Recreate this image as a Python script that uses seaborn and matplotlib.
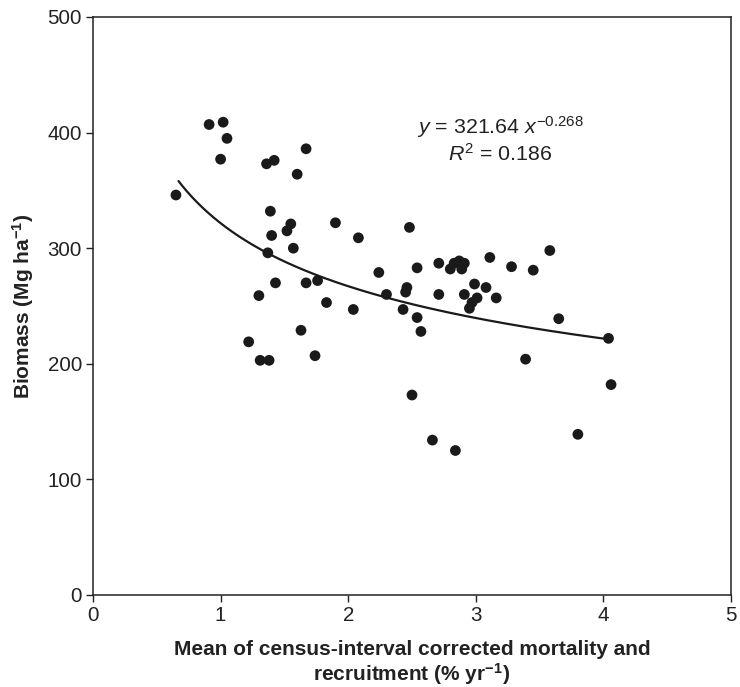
import numpy as np
import pandas as pd
import matplotlib
matplotlib.use("Agg")
import matplotlib.pyplot as plt
import seaborn as sns

# Data
turnover = [0.65, 0.91, 1.02, 1.05, 1.00, 1.36, 1.42, 1.67, 1.60, 1.39,
            1.55, 1.52, 1.90, 1.40, 1.57, 1.37, 1.43, 1.67, 1.76, 1.30,
            1.83, 1.63, 1.22, 1.31, 1.38, 1.74, 2.08, 2.48, 2.04, 2.24,
            2.30, 2.46, 2.45, 2.43, 2.54, 2.54, 2.57, 2.71, 2.71, 2.80,
            2.83, 2.87, 2.91, 2.89, 2.99, 2.91, 3.01, 2.97, 2.95, 3.08,
            3.11, 3.16, 3.28, 3.45, 3.58, 3.65, 3.39, 2.50, 2.66, 2.84,
            4.04, 4.06, 3.80]
biomass = [346, 407, 409, 395, 377, 373, 376, 386, 364, 332,
           321, 315, 322, 311, 300, 296, 270, 270, 272, 259,
           253, 229, 219, 203, 203, 207, 309, 318, 247, 279,
           260, 266, 262, 247, 283, 240, 228, 287, 260, 282,
           287, 289, 287, 282, 269, 260, 257, 253, 248, 266,
           292, 257, 284, 281, 298, 239, 204, 173, 134, 125,
           222, 182, 139]

# Power-law fit shown on the chart
fit_a = 321.64
fit_b = -0.268
fit_range = [0.67, 4.04]

x_ticks = [0, 1, 2, 3, 4, 5]
y_ticks = [0, 100, 200, 300, 400, 500]

sns.set_theme(style="white")
plt.rcParams['font.family'] = ['Liberation Sans', 'DejaVu Sans']
plt.rcParams['mathtext.fontset'] = 'custom'
plt.rcParams['mathtext.rm'] = 'Liberation Sans'
plt.rcParams['mathtext.it'] = 'Liberation Sans:italic'
plt.rcParams['mathtext.bf'] = 'Liberation Sans:bold'

df = pd.DataFrame({"x": turnover, "y": biomass})
xf = np.linspace(fit_range[0], fit_range[1], 200)
fit_df = pd.DataFrame({"x": xf, "y": fit_a * xf ** fit_b})

fig = plt.figure(figsize=(7.4, 6.87), dpi=100)
ax = fig.add_axes([93 / 740, 1 - 595 / 687, (731 - 93) / 740, (595 - 17) / 687])

sns.lineplot(data=fit_df, x="x", y="y", ax=ax, color="#1a1a1a", linewidth=1.6)
sns.scatterplot(data=df, x="x", y="y", ax=ax, color="#1a1a1a", s=60,
                edgecolor="none", linewidth=0)

ax.set_xlim(0, 5)
ax.set_ylim(0, 500)
ax.set_xticks(x_ticks)
ax.set_yticks(y_ticks)
ax.tick_params(axis="both", direction="out", length=5, width=1, color="#222222",
               labelsize=14.8, labelcolor="#222222", pad=3,
               bottom=True, left=True)
for sp in ax.spines.values():
    sp.set_color("#222222")
    sp.set_linewidth(1.1)
    sp.set_visible(True)

ax.set_xlabel("Mean of census-interval corrected mortality and\nrecruitment (% yr$^{\\mathbf{-1}}$)",
              fontsize=15, fontweight="bold", color="#222222", labelpad=11, linespacing=1.1)
ax.set_ylabel("Biomass (Mg ha$^{\\mathbf{-1}}$)", fontsize=15, fontweight="bold",
              color="#222222", labelpad=8)

ax.text(3.19, 405, "$y$ = 321.64 $x^{-0.268}$", fontsize=15.4, ha="center", va="center",
        color="#222222")
ax.text(3.19, 382, "$R^2$ = 0.186", fontsize=15.4, ha="center", va="center", color="#222222")

fig.savefig("out.png", dpi=100)
